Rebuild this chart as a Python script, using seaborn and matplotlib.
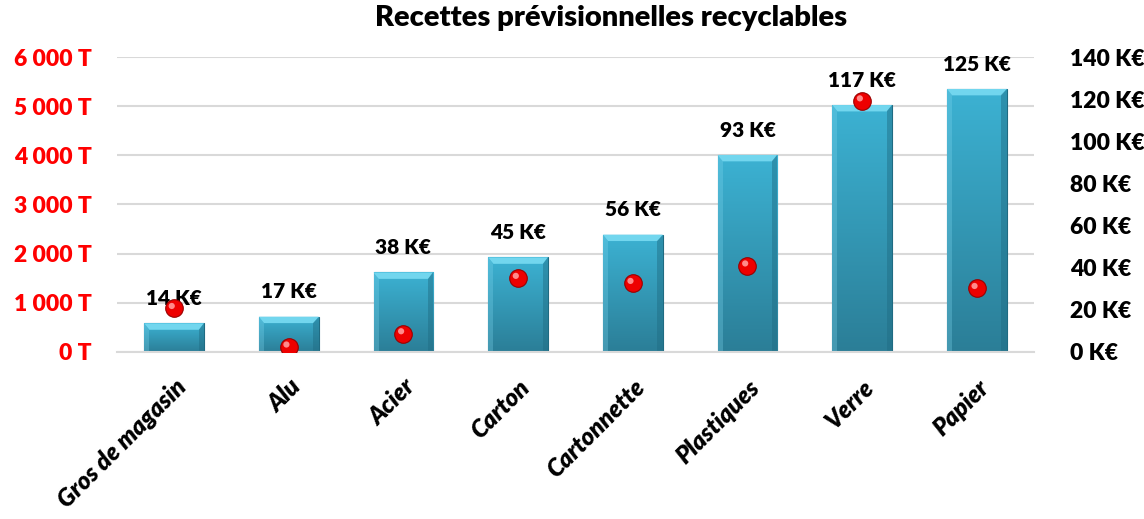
import numpy as np
import pandas as pd
import seaborn as sns
import matplotlib.pyplot as plt
from matplotlib.patches import Polygon
from matplotlib.colors import LinearSegmentedColormap

# Données
categories = ["Gros de magasin", "Alu", "Acier", "Carton", "Cartonnette",
              "Plastiques", "Verre", "Papier"]
tonnage = [580, 716, 1616, 1922, 2386, 4008, 5024, 5351]          # T (axe gauche)
recettes_labels = [14, 17, 38, 45, 56, 93, 117, 125]               # K€ (étiquettes)
points_ke = [20.7, 2.4, 8.7, 35.0, 32.6, 40.9, 119.3, 30.2]        # K€ (axe droit)
left_ticks = [0, 1000, 2000, 3000, 4000, 5000, 6000]
right_ticks = [0, 20, 40, 60, 80, 100, 120, 140]

df = pd.DataFrame({"cat": categories, "t": tonnage, "ke": points_ke})

sns.set_theme(style="white")
plt.rcParams["font.family"] = ["Lato", "DejaVu Sans"]
plt.rcParams["font.weight"] = "heavy"
plt.rcParams["text.color"] = "black"
W = "heavy"

fig = plt.figure(figsize=(11.44, 5.19), dpi=100)
ax = fig.add_axes([0.102, 0.322, 0.802, 0.568])

sns.barplot(data=df, x="cat", y="t", ax=ax, color="#33a3c4", width=0.52,
            saturation=1, edgecolor="#1f6b82", linewidth=0.8, zorder=2)

# dégradé + biseau façon Excel
cmap = LinearSegmentedColormap.from_list("bar", ["#2b7e97", "#3cb2d3"])
grad = np.linspace(0, 1, 256).reshape(-1, 1)
bx, by = 0.045, 130
for p in list(ax.patches):
    x0, w, h = p.get_x(), p.get_width(), p.get_height()
    im = ax.imshow(grad, extent=[x0, x0 + w, 0, h], origin="lower",
                   aspect="auto", cmap=cmap, zorder=2.1)
    im.set_clip_path(p)
    top = Polygon([(x0, h), (x0 + w, h), (x0 + w - bx, h - by), (x0 + bx, h - by)],
                  closed=True, facecolor="#72d6ee", edgecolor="none", zorder=2.2)
    right = Polygon([(x0 + w, h), (x0 + w, 0), (x0 + w - bx, 0), (x0 + w - bx, h - by)],
                    closed=True, facecolor="#1f6b82", alpha=0.45, edgecolor="none", zorder=2.2)
    left = Polygon([(x0, h), (x0, 0), (x0 + bx, 0), (x0 + bx, h - by)],
                   closed=True, facecolor="#7fd6ee", alpha=0.3, edgecolor="none", zorder=2.2)
    ax.add_patch(top)
    ax.add_patch(right)
    ax.add_patch(left)

for i, (h, v) in enumerate(zip(tonnage, recettes_labels)):
    ax.annotate(f"{v} K€", (i, h), xytext=(0, 11), textcoords="offset points",
                ha="center", va="bottom", fontsize=15, fontweight=W, color="black")

ax.set_xlim(-0.5, len(categories) - 0.5)
ax.set_ylim(0, 6000)
ax.set_yticks(left_ticks)
ax.set_yticklabels([f"{t:,} T".replace(",", " ") for t in left_ticks],
                   color="#ff0000", fontsize=16.5, fontweight=W)
ax.grid(axis="y", color="#d9d9d9", linewidth=1.5)
ax.set_axisbelow(True)
for s in ["top", "left", "right"]:
    ax.spines[s].set_visible(False)
ax.spines["bottom"].set_color("#d9d9d9")
ax.spines["bottom"].set_linewidth(1.5)
ax.tick_params(axis="y", length=0, pad=18)
ax.set_xticks(range(len(categories)))
ax.set_xticklabels(categories, rotation=45, ha="right", rotation_mode="anchor",
                   fontsize=17.5, fontweight=W, style="italic", color="black")
ax.tick_params(axis="x", length=0, pad=17)
ax.set_xticks(np.arange(len(categories) + 1) - 0.5, minor=True)
ax.tick_params(axis="x", which="minor", length=7, color="#d9d9d9", width=1.5)
ax.set_xlabel("")
ax.set_ylabel("")

ax2 = ax.twinx()
sns.scatterplot(x=np.arange(len(categories)), y=points_ke, ax=ax2, s=160,
                color="#ee0000", edgecolor="#9a0000", linewidth=0.8, zorder=5)
sns.scatterplot(x=np.arange(len(categories)) - 0.02, y=np.array(points_ke) + 1.1, ax=ax2,
                s=20, color="#ff8a8a", edgecolor="none", zorder=6)
ax2.set_ylim(0, 140)
ax2.set_yticks(right_ticks)
ax2.set_yticklabels([f"{t} K€" for t in right_ticks], fontsize=16.5,
                    fontweight=W, color="black")
ax2.tick_params(axis="y", length=0, pad=26)
for s in ax2.spines.values():
    s.set_visible(False)
ax2.set_ylabel("")

fig.suptitle("Recettes prévisionnelles recyclables", x=0.534, y=0.99,
             fontsize=21, fontweight=W, color="black")

fig.savefig("out.png", dpi=100)
